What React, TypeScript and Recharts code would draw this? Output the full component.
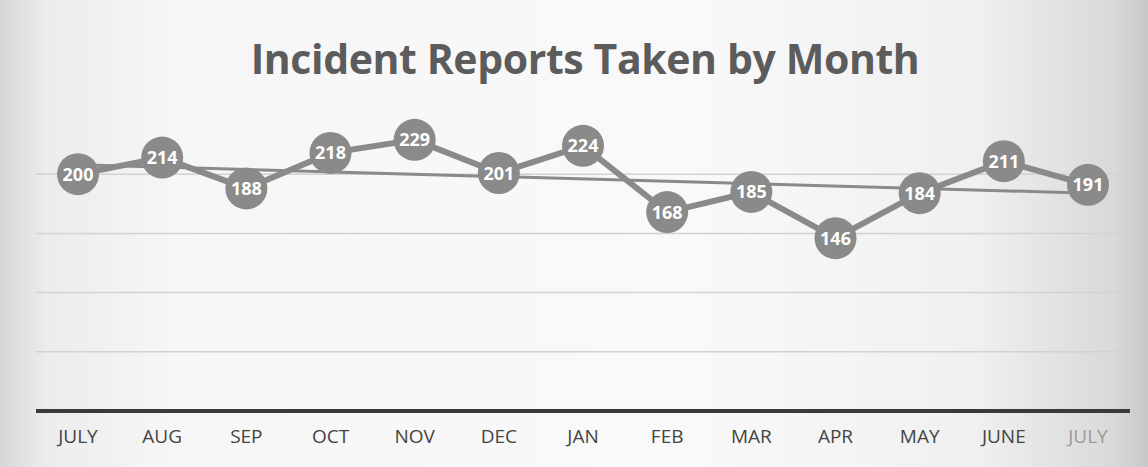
import React from "react";
import { LineChart, Line, XAxis, YAxis, CartesianGrid, LabelList } from "recharts";

const months = ["JULY", "AUG", "SEP", "OCT", "NOV", "DEC", "JAN", "FEB", "MAR", "APR", "MAY", "JUNE", "JULY"];
const reports = [200, 214, 188, 218, 229, 201, 224, 168, 185, 146, 184, 211, 191];
// linear trendline, read at its two ends
const trendStart = 208;
const trendEnd = 184;
const yTicks = [0, 50, 100, 150, 200];

const data = months.map((m, i) => ({
  key: i,
  month: m,
  reports: reports[i],
  trend: i === 0 ? trendStart : i === months.length - 1 ? trendEnd : null,
}));

const GRAY = "#8a8a8a";
const FONT = "'Open Sans', 'Noto Sans', sans-serif";

const Tick = (props: any) => {
  const { x, y, payload } = props;
  const last = payload.index === months.length - 1;
  return (
    <text x={x} y={y + 24} textAnchor="middle" fontFamily={FONT} fontSize={19} fill={last ? "#9a9a9a" : "#444"}>
      {months[payload.value]}
    </text>
  );
};

const DotLabel = (props: any) => {
  const { x, y, value } = props;
  return (
    <text x={x} y={y} dy={6.5} textAnchor="middle" fontFamily={FONT} fontWeight={700} fontSize={18} fill="#ffffff">
      {value}
    </text>
  );
};

export default function App() {
  return (
    <div
      style={{
        position: "absolute",
        left: 0,
        top: 0,
        width: 1148,
        height: 467,
        background:
          "linear-gradient(to right, #d6d6d6 0%, #ececec 4%, #f6f6f6 15%, #f9f9f9 60%, #f0f0f0 85%, #d9d9d9 97%, #c8c8c8 100%)",
        overflow: "hidden",
      }}
    >
      <div
        style={{
          position: "absolute",
          left: 0,
          top: 30,
          width: 1170,
          textAlign: "center",
          fontFamily: FONT,
          fontWeight: 700,
          fontSize: 41,
          lineHeight: "56px",
          color: "#5c5c5c",
          letterSpacing: -0.4,
        }}
      >
        Incident Reports Taken by Month
      </div>
      <LineChart width={1148} height={467} data={data} margin={{ top: 115, right: 18, bottom: 26, left: 36 }}>
        <CartesianGrid vertical={false} horizontalValues={yTicks} stroke="#d2d2d2" strokeWidth={1.5} />
        <XAxis
          dataKey="key"
          type="category"
          padding={{ left: 42, right: 42 }}
          axisLine={{ stroke: "#3a3a3a", strokeWidth: 4 }}
          tickLine={false}
          tick={<Tick />}
          height={30}
          interval={0}
        />
        <YAxis hide domain={[0, 250]} ticks={yTicks} />
        <Line
          dataKey="trend"
          stroke={GRAY}
          strokeWidth={3}
          dot={false}
          connectNulls
          isAnimationActive={false}
        />
        <Line
          dataKey="reports"
          stroke={GRAY}
          strokeWidth={6}
          dot={{ r: 21, fill: GRAY, stroke: GRAY, strokeWidth: 0 }}
          isAnimationActive={false}
        >
          <LabelList dataKey="reports" content={<DotLabel />} />
        </Line>
      </LineChart>
    </div>
  );
}
